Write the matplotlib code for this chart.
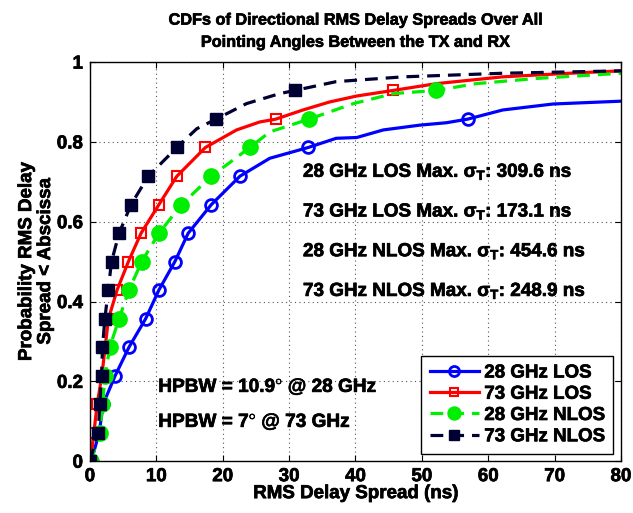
import matplotlib
matplotlib.use("Agg")
import matplotlib.pyplot as plt
from matplotlib.lines import Line2D
import matplotlib.patheffects as pe

plt.rcParams['font.family'] = ['Liberation Sans', 'DejaVu Sans']
plt.rcParams['font.weight'] = 'bold'
plt.rcParams['mathtext.fontset'] = 'custom'
plt.rcParams['mathtext.rm'] = 'Liberation Sans:bold'
plt.rcParams['mathtext.it'] = 'Liberation Sans:bold'
plt.rcParams['mathtext.bf'] = 'Liberation Sans:bold'

# CDF levels at which markers are drawn
marker_levels = [0, 0.071, 0.143, 0.214, 0.286, 0.357, 0.429, 0.5, 0.571,
                 0.643, 0.714, 0.786, 0.857, 0.929]

# 28 GHz LOS
los28_mx = [0.2, 1.4, 2.0, 3.8, 5.9, 8.4, 10.4, 12.8, 14.8, 18.3, 22.6, 32.9, 56.9]
los28_my = marker_levels[:13]
los28_lx = [0.2, 1.4, 2.0, 3.8, 5.9, 8.4, 10.4, 12.8, 14.8, 18.3, 22.6, 27.1, 32.9,
            37.1, 40.2, 44.2, 49.7, 53.7, 56.9, 62.2, 69.8, 80.0]
los28_ly = [0, 0.071, 0.143, 0.214, 0.286, 0.357, 0.429, 0.5, 0.571, 0.643, 0.714,
            0.759, 0.786, 0.809, 0.811, 0.83, 0.842, 0.848, 0.857, 0.880, 0.895, 0.902]

# 73 GHz LOS
los73_mx = [0.1, 0.6, 1.1, 1.8, 2.3, 2.8, 4.1, 5.8, 7.7, 10.4, 13.1, 17.4, 28.0, 45.7]
los73_my = marker_levels
los73_lx = [0.1, 0.6, 1.1, 1.8, 2.3, 2.8, 4.1, 5.8, 7.7, 10.4, 13.1, 17.4, 22.1, 25.6,
            28.0, 32.1, 36.1, 40.2, 45.7, 52.2, 62.2, 72.3, 80.0]
los73_ly = [0, 0.071, 0.143, 0.214, 0.286, 0.357, 0.429, 0.5, 0.571, 0.643, 0.714,
            0.786, 0.83, 0.85, 0.857, 0.88, 0.90, 0.915, 0.929, 0.946, 0.963, 0.972, 0.978]

# 28 GHz NLOS
nlos28_mx = [0.1, 1.5, 1.9, 2.3, 3.0, 4.4, 5.9, 7.8, 10.4, 13.8, 18.3, 24.1, 33.0, 52.2]
nlos28_my = marker_levels
nlos28_lx = [0.1, 1.5, 1.9, 2.3, 3.0, 4.4, 5.9, 7.8, 10.4, 13.8, 18.3, 24.1, 27.1, 33.0,
             39.7, 45.7, 52.2, 58.2, 67.3, 80.0]
nlos28_ly = [0, 0.071, 0.143, 0.214, 0.286, 0.357, 0.429, 0.5, 0.571, 0.643, 0.714,
             0.786, 0.825, 0.857, 0.896, 0.921, 0.929, 0.946, 0.959, 0.972]

# 73 GHz NLOS
nlos73_mx = [0.0, 1.25, 1.5, 1.75, 1.9, 2.26, 2.76, 3.26, 4.4, 6.2, 8.8, 13.1, 19.0, 30.9]
nlos73_my = marker_levels
nlos73_lx = [0.0, 1.25, 1.5, 1.75, 1.9, 2.26, 2.76, 3.26, 4.4, 6.2, 8.8, 13.1, 16.1, 19.0,
             23.6, 28.6, 30.9, 37.1, 47.2, 62.2, 80.0]
nlos73_ly = [0, 0.071, 0.143, 0.214, 0.286, 0.357, 0.429, 0.5, 0.571, 0.643, 0.714,
             0.786, 0.833, 0.857, 0.896, 0.921, 0.929, 0.951, 0.963, 0.972, 0.978]

labels = ['28 GHz LOS', '73 GHz LOS', '28 GHz NLOS', '73 GHz NLOS']
x_ticks = [0, 10, 20, 30, 40, 50, 60, 70, 80]
y_ticks = [0, 0.2, 0.4, 0.6, 0.8, 1]
y_tick_labels = ['0', '0.2', '0.4', '0.6', '0.8', '1']
stats_text = ['28 GHz LOS Max. $\\sigma_\\mathrm{T}$: 309.6 ns',
              '73 GHz LOS Max. $\\sigma_\\mathrm{T}$: 173.1 ns',
              '28 GHz NLOS Max. $\\sigma_\\mathrm{T}$: 454.6 ns',
              '73 GHz NLOS Max. $\\sigma_\\mathrm{T}$: 248.9 ns']
hpbw_text = ['HPBW = 10.9$^{\\circ}$ @ 28 GHz', 'HPBW = 7$^{\\circ}$ @ 73 GHz']

FS = 13.5
heavy = [pe.withStroke(linewidth=0.5, foreground='black')]

fig = plt.figure(figsize=(6.33, 5.13), dpi=100)
ax = fig.add_axes([0.142, 0.101, 0.839, 0.778])

styles = [
    dict(color='#0000ff', ls='-', marker='o', mfc='none', ms=8.5, mew=2.0),
    dict(color='#ff0000', ls='-', marker='s', mfc='none', ms=7.5, mew=1.5),
    dict(color='#00ee00', ls=(0, (4, 2.5)), marker='o', mfc='#00ee00', ms=11, mew=1),
    dict(color='#000033', ls=(0, (4, 2.5)), marker='s', mfc='#000033', ms=8.5, mew=1),
]
series = [(los28_lx, los28_ly, los28_mx, los28_my),
          (los73_lx, los73_ly, los73_mx, los73_my),
          (nlos28_lx, nlos28_ly, nlos28_mx, nlos28_my),
          (nlos73_lx, nlos73_ly, nlos73_mx, nlos73_my)]

handles = []
for (lx, ly, mx, my), st, lab in zip(series, styles, labels):
    ax.plot(lx, ly, color=st['color'], ls=st['ls'], lw=2.3)
    ax.plot(mx, my, ls='none', marker=st['marker'], color=st['color'],
            mfc=st['mfc'], mec=st['color'], ms=st['ms'], mew=st['mew'])
    handles.append(Line2D([], [], color=st['color'], ls=st['ls'], lw=2.3,
                          marker=st['marker'], mfc=st['mfc'], mec=st['color'],
                          ms=st['ms'] * 0.85, mew=st['mew'], label=lab))

ax.set_xlim(0, 80)
ax.set_ylim(0, 1)
ax.set_xticks(x_ticks)
ax.set_yticks(y_ticks)
ax.set_yticklabels(y_tick_labels)
ax.tick_params(direction='in', top=True, right=True, labelsize=FS, length=4, pad=5)
for lbl in ax.get_xticklabels() + ax.get_yticklabels():
    lbl.set_fontweight('bold')
    lbl.set_path_effects(heavy)
ax.grid(True, ls=(0, (1, 3)), color='#555555', lw=0.8)
for sp in ax.spines.values():
    sp.set_linewidth(1.0)

ax.set_xlabel('RMS Delay Spread (ns)', fontsize=FS, fontweight='bold', labelpad=0,
              path_effects=heavy)
ax.set_ylabel('Probability RMS Delay\nSpread < Abscissa', fontsize=FS,
              fontweight='bold', labelpad=2, linespacing=1.15, path_effects=heavy)
ax.set_title('CDFs of Directional RMS Delay Spreads Over All\n'
             'Pointing Angles Between the TX and RX', fontsize=11.7,
             fontweight='bold', pad=11, linespacing=1.6, path_effects=heavy)

stat_base = [0.7125, 0.613, 0.5135, 0.414]
for yb, t in zip(stat_base, stats_text):
    ax.text(32.1, yb, t, fontsize=13.6, fontweight='bold',
            va='baseline', ha='left', path_effects=heavy)
hpbw_base = [0.1737, 0.086]
for yb, t in zip(hpbw_base, hpbw_text):
    ax.text(10.3, yb, t, fontsize=13.7, fontweight='bold',
            va='baseline', ha='left', path_effects=heavy)

leg = ax.legend(handles=handles, loc='lower right', fontsize=FS, numpoints=1,
                handlelength=2.6, fancybox=False, edgecolor='black', framealpha=1,
                borderaxespad=0.4, handletextpad=0.3, labelspacing=0.22,
                borderpad=0.45)
leg.get_frame().set_linewidth(1.0)
for t in leg.get_texts():
    t.set_fontweight('bold')
    t.set_path_effects(heavy)

fig.savefig('out.png', dpi=100)
